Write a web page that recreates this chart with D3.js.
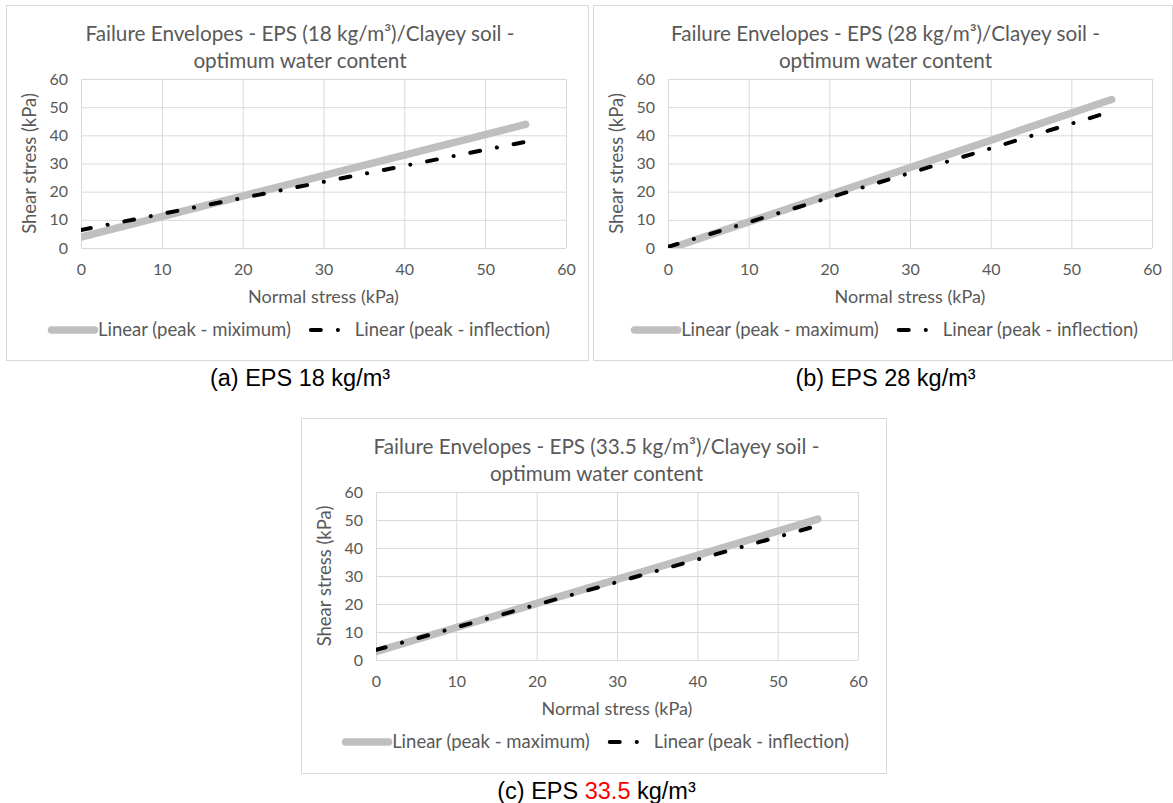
<!DOCTYPE html>
<html>
<head>
<meta charset="utf-8">
<script src="https://cdn.jsdelivr.net/npm/d3@7"></script>
<style>
body { margin: 0; background: #fff; }
svg text { font-family: Lato, "Open Sans", sans-serif; }
svg text.cap { font-family: "Liberation Sans", Arial, sans-serif; }
</style>
</head>
<body>
<svg id="chart" width="1173" height="803"></svg>
<script>
// axis ticks (kPa)
var xTicks = [0, 10, 20, 30, 40, 50, 60];
var yTicks = [0, 10, 20, 30, 40, 50, 60];

// trendlines are drawn between these two normal stresses
var xEnds = [0, 55];

// shear stress at xEnds
var maxA = [3.9, 43.9],  inflA = [6.4, 37.7];
var maxB = [-0.4, 52.7], inflB = [0.4, 48.5];
var maxC = [3.0, 50.3],  inflC = [3.6, 48.0];

var titleTop = [
  "Failure Envelopes - EPS (18 kg/m³)/Clayey soil -",
  "Failure Envelopes - EPS (28 kg/m³)/Clayey soil -",
  "Failure Envelopes - EPS (33.5 kg/m³)/Clayey soil -"
];
var titleBottom = "optimum water content";
var maxLabels = ["Linear (peak - miximum)", "Linear (peak - maximum)", "Linear (peak - maximum)"];
var inflLabel = "Linear (peak - inflection)";
var xTitle = "Normal stress (kPa)";
var yTitle = "Shear stress (kPa)";
var capPre  = ["(a) EPS ", "(b) EPS ", "(c) EPS "];
var capNum  = ["18", "28", "33.5"];
var capPost = " kg/m³";

var svg = d3.select("#chart");
var grey = "#595959", grid = "#d9d9d9";
var dashDot = "10,17,0.1,17";

function drawPanel(i, box, plot, maxVals, inflVals) {
  var g = svg.append("g");
  var cx = box.x + box.w / 2;

  g.append("rect")
    .attr("x", box.x + 0.5).attr("y", box.y + 0.5)
    .attr("width", box.w).attr("height", box.h)
    .attr("fill", "#fff").attr("stroke", grid);

  var x = d3.scaleLinear().domain([0, 60]).range([plot.l, plot.r]);
  var y = d3.scaleLinear().domain([0, 60]).range([plot.b, plot.t]);

  var xa = g.append("g").attr("transform", "translate(0," + plot.b + ")")
    .call(d3.axisBottom(x).tickValues(xTicks).tickSizeInner(-(plot.b - plot.t)).tickSizeOuter(0).tickPadding(16));
  var ya = g.append("g").attr("transform", "translate(" + plot.l + ",0)")
    .call(d3.axisLeft(y).tickValues(yTicks).tickSizeInner(-(plot.r - plot.l)).tickSizeOuter(0).tickPadding(13));
  [xa, ya].forEach(function(a) {
    a.select(".domain").remove();
    a.attr("font-family", null).attr("font-size", null);
    a.selectAll("line").attr("stroke", grid);
    a.selectAll("text").attr("fill", grey).style("font-size", "16px");
  });

  var clipId = "clip" + i;
  g.append("clipPath").attr("id", clipId).append("rect")
    .attr("x", plot.l).attr("y", plot.t).attr("width", plot.r - plot.l).attr("height", plot.b - plot.t);

  var line = d3.line().x(function(d, j) { return x(xEnds[j]); }).y(function(d) { return y(d); });

  g.append("path").datum(maxVals).attr("d", line)
    .attr("clip-path", "url(#" + clipId + ")")
    .attr("fill", "none").attr("stroke", "#bfbfbf").attr("stroke-width", 7.5).attr("stroke-linecap", "round");
  g.append("path").datum(inflVals).attr("d", line)
    .attr("clip-path", "url(#" + clipId + ")")
    .attr("fill", "none").attr("stroke", "#000").attr("stroke-width", 4)
    .attr("stroke-linecap", "round").attr("stroke-dasharray", dashDot);

  // title
  g.append("text").attr("x", cx + 3).attr("y", box.y + 36).attr("text-anchor", "middle")
    .attr("fill", grey).style("font-size", "20.7px").text(titleTop[i]);
  g.append("text").attr("x", cx + 3).attr("y", box.y + 63).attr("text-anchor", "middle")
    .attr("fill", grey).style("font-size", "20.7px").text(titleBottom);

  // axis titles
  g.append("text").attr("x", (plot.l + plot.r) / 2).attr("y", plot.b + 55).attr("text-anchor", "middle")
    .attr("fill", grey).style("font-size", "18px").text(xTitle);
  g.append("text").attr("transform", "translate(" + (plot.l - 45) + "," + (plot.t + plot.b) / 2 + ") rotate(-90)")
    .attr("text-anchor", "middle").attr("fill", grey).style("font-size", "18.5px").text(yTitle);

  // legend
  var ly = plot.b + 82;
  var lg = g.append("g");
  var t1 = lg.append("text").attr("y", ly + 6).attr("fill", grey).style("font-size", "18.5px").text(maxLabels[i]);
  var t2 = lg.append("text").attr("y", ly + 6).attr("fill", grey).style("font-size", "18.5px").text(inflLabel);
  var w1 = t1.node().getComputedTextLength(), w2 = t2.node().getComputedTextLength();
  var total = 50 + w1 + 18 + 46 + w2;
  var lx = cx + 2 - total / 2;
  lg.append("line").attr("x1", lx + 3.5).attr("x2", lx + 46.5).attr("y1", ly).attr("y2", ly)
    .attr("stroke", "#bfbfbf").attr("stroke-width", 7.5).attr("stroke-linecap", "round");
  t1.attr("x", lx + 50);
  var dx = lx + 50 + w1 + 18 + 2;
  lg.append("line").attr("x1", dx).attr("x2", dx + 28).attr("y1", ly).attr("y2", ly)
    .attr("stroke", "#000").attr("stroke-width", 4).attr("stroke-linecap", "round")
    .attr("stroke-dasharray", dashDot);
  t2.attr("x", lx + 50 + w1 + 18 + 46);

  // caption under the chart
  var cap = svg.append("text").attr("class", "cap").attr("x", cx + 3).attr("y", box.y + box.h + 26)
    .attr("text-anchor", "middle").attr("fill", "#000").style("font-size", "23.5px");
  cap.append("tspan").text(capPre[i]);
  cap.append("tspan").attr("fill", i === 2 ? "#ff0000" : "#000").text(capNum[i]);
  cap.append("tspan").text(capPost);
}

drawPanel(0, {x: 6, y: 5, w: 582, h: 355},   {l: 81,  r: 566,  t: 79,  b: 248}, maxA, inflA);
drawPanel(1, {x: 593, y: 5, w: 579, h: 355}, {l: 668, r: 1152, t: 79,  b: 248}, maxB, inflB);
drawPanel(2, {x: 301, y: 418, w: 585, h: 355}, {l: 376, r: 858, t: 492, b: 660}, maxC, inflC);
</script>
</body>
</html>
